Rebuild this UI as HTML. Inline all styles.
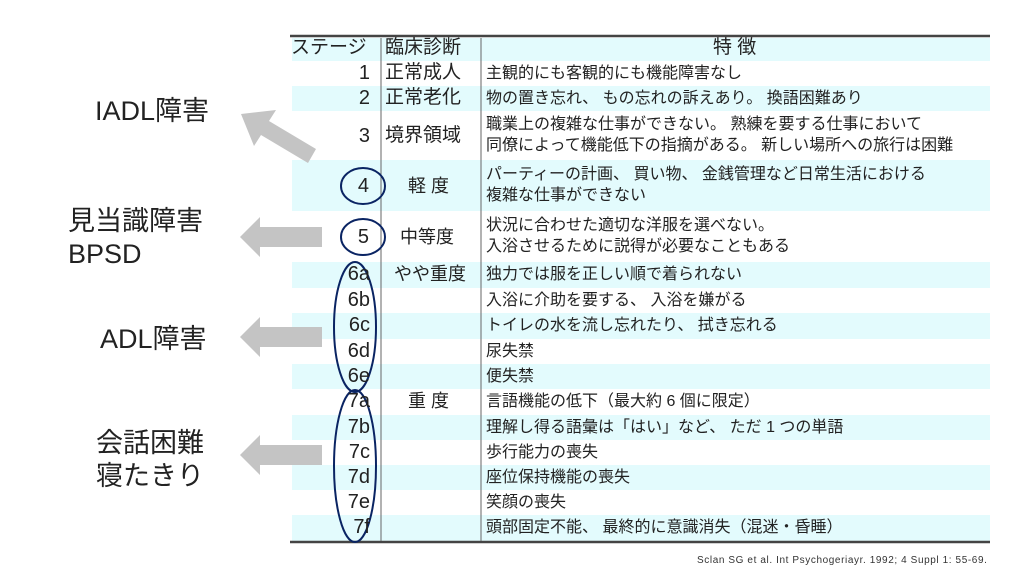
<!DOCTYPE html>
<html><head><meta charset="utf-8"><style>
body{margin:0;width:1024px;height:576px;background:#fff;overflow:hidden;position:relative;font-family:"Liberation Sans","Noto Sans CJK JP",sans-serif;}
.t{position:absolute;white-space:nowrap;color:#222;}
.n{position:absolute;white-space:nowrap;color:#222;font-size:20px;width:40px;text-align:right;left:330px;}
.lab{position:absolute;font-size:27px;color:#222;white-space:nowrap;font-family:"Liberation Sans","Noto Sans CJK JP",sans-serif;}
svg{position:absolute;left:0;top:0}
</style></head><body>
<svg width="1024" height="576">
<g fill="#e3fbfd">
<rect x="292" y="38" width="698" height="23"/>
<rect x="292" y="86" width="698" height="25"/>
<rect x="292" y="160" width="698" height="51"/>
<rect x="292" y="262" width="698" height="26"/>
<rect x="292" y="313" width="698" height="26"/>
<rect x="292" y="364" width="698" height="25"/>
<rect x="292" y="415" width="698" height="25"/>
<rect x="292" y="465" width="698" height="25"/>
<rect x="292" y="515" width="698" height="26"/>
</g>
<line x1="290" y1="36" x2="990" y2="36" stroke="#444" stroke-width="2.5"/>
<line x1="290" y1="542" x2="990" y2="542" stroke="#444" stroke-width="2.5"/>
<line x1="381" y1="38" x2="381" y2="541" stroke="#666" stroke-width="1"/>
<line x1="481" y1="38" x2="481" y2="541" stroke="#666" stroke-width="1"/>
<g fill="#c4c4c4">
<polygon points="322,227 260,227 260,217 240,237 260,257 260,247 322,247"/>
<polygon points="322,327 260,327 260,317 240,337 260,357 260,347 322,347"/>
<polygon points="322,445 260,445 260,435 240,455 260,475 260,465 322,465"/>
<polygon points="241,114 276,110 269,121 316,149 308,163 261,135 254,146"/>
</g>
<g fill="none" stroke="#0a2463" stroke-width="2">
<ellipse cx="363" cy="186" rx="22" ry="18"/>
<ellipse cx="363" cy="237" rx="22" ry="18"/>
<ellipse cx="355" cy="327" rx="21" ry="65"/>
<ellipse cx="355" cy="466" rx="21" ry="76"/>
</g>
</svg>
<div class="lab" style="left:95px;top:89px">IADL障害</div>
<div class="lab" style="left:68px;top:199px">見当識障害</div>
<div class="lab" style="left:68px;top:239px">BPSD</div>
<div class="lab" style="left:100px;top:317px">ADL障害</div>
<div class="lab" style="left:96px;top:421px">会話困難</div>
<div class="lab" style="left:96px;top:454px">寝たきり</div>
<div style="position:absolute;left:0;top:0;line-height:20px;color:#222">
<div class="t" style="left:291px;top:38px;font-size:19px">ステージ</div>
<div class="t" style="left:385px;top:38px;font-size:19px">臨床診断</div>
<div class="t" style="left:713px;top:38px;font-size:19px">特 徴</div>
<div class="n" style="top:63px">1</div>
<div class="n" style="top:88px">2</div>
<div class="n" style="top:126px">3</div>
<div class="n" style="top:176px;left:329px">4</div>
<div class="n" style="top:227px;left:329px">5</div>
<div class="n" style="top:264px">6a</div>
<div class="n" style="top:290px">6b</div>
<div class="n" style="top:315px">6c</div>
<div class="n" style="top:341px">6d</div>
<div class="n" style="top:366px">6e</div>
<div class="n" style="top:391px">7a</div>
<div class="n" style="top:417px">7b</div>
<div class="n" style="top:442px">7c</div>
<div class="n" style="top:467px">7d</div>
<div class="n" style="top:492px">7e</div>
<div class="n" style="top:517px">7f</div>
<div class="t" style="left:385px;top:63px;font-size:19px">正常成人</div>
<div class="t" style="left:385px;top:88px;font-size:19px">正常老化</div>
<div class="t" style="left:385px;top:126px;font-size:19px">境界領域</div>
<div class="t" style="left:408px;top:176px;font-size:18px">軽 度</div>
<div class="t" style="left:400px;top:227px;font-size:18px">中等度</div>
<div class="t" style="left:394px;top:264px;font-size:18px">やや重度</div>
<div class="t" style="left:408px;top:391px;font-size:18px">重 度</div>
</div>
<div style="position:absolute;left:0;top:0;font-size:16px;line-height:21px;color:#222">
<div class="t" style="left:486px;top:63px">主観的にも客観的にも機能障害なし</div>
<div class="t" style="left:486px;top:88px">物の置き忘れ、 もの忘れの訴えあり。 換語困難あり</div>
<div class="t" style="left:486px;top:114px">職業上の複雑な仕事ができない。 熟練を要する仕事において<br>同僚によって機能低下の指摘がある。 新しい場所への旅行は困難</div>
<div class="t" style="left:486px;top:164px">パーティーの計画、 買い物、 金銭管理など日常生活における<br>複雑な仕事ができない</div>
<div class="t" style="left:486px;top:215px">状況に合わせた適切な洋服を選べない。<br>入浴させるために説得が必要なこともある</div>
<div class="t" style="left:486px;top:264px">独力では服を正しい順で着られない</div>
<div class="t" style="left:486px;top:290px">入浴に介助を要する、 入浴を嫌がる</div>
<div class="t" style="left:486px;top:315px">トイレの水を流し忘れたり、 拭き忘れる</div>
<div class="t" style="left:486px;top:341px">尿失禁</div>
<div class="t" style="left:486px;top:366px">便失禁</div>
<div class="t" style="left:486px;top:391px">言語機能の低下（最大約 6 個に限定）</div>
<div class="t" style="left:486px;top:417px">理解し得る語彙は「はい」など、 ただ 1 つの単語</div>
<div class="t" style="left:486px;top:442px">歩行能力の喪失</div>
<div class="t" style="left:486px;top:467px">座位保持機能の喪失</div>
<div class="t" style="left:486px;top:492px">笑顔の喪失</div>
<div class="t" style="left:486px;top:517px">頭部固定不能、 最終的に意識消失（混迷・昏睡）</div>
<div class="t" style="left:697px;top:555px;font-size:10px;line-height:12px;color:#333;letter-spacing:0.6px">Sclan SG et al. Int Psychogeriayr.  1992; 4 Suppl 1: 55-69.</div>
</div>
</body></html>
